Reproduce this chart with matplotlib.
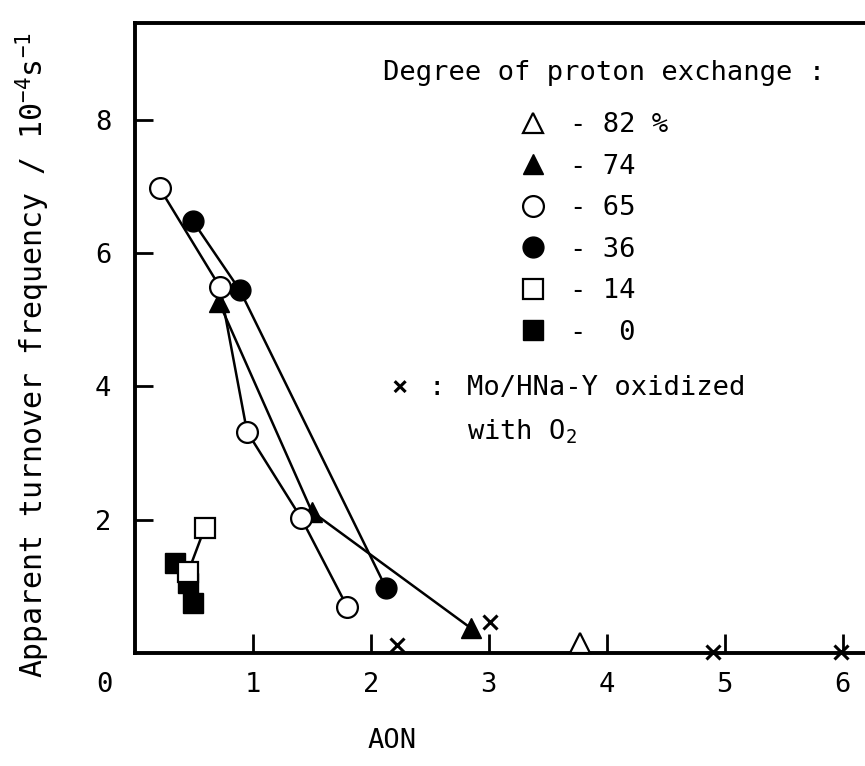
import matplotlib
matplotlib.use('Agg')
import matplotlib.pyplot as plt

plt.rcParams['font.family'] = ['DejaVu Sans Mono', 'DejaVu Sans']
plt.rcParams['mathtext.default'] = 'regular'

# data (AON, turnover frequency / 1e-4 s-1)
x82 = [3.77]
y82 = [0.15]
x74 = [0.71, 1.50, 2.85]
y74 = [5.27, 2.12, 0.37]
x65 = [0.21, 0.72, 0.95, 1.41, 1.80]
y65 = [6.97, 5.49, 3.32, 2.02, 0.69]
x36 = [0.49, 0.89, 2.13]
y36 = [6.48, 5.44, 0.97]
x14 = [0.59, 0.45]
y14 = [1.87, 1.21]
x00 = [0.34, 0.45, 0.49]
y00 = [1.35, 1.05, 0.75]
xO2 = [2.22, 3.01, 4.90, 5.99]
yO2 = [0.12, 0.47, 0.02, 0.02]

xticks = [1, 2, 3, 4, 5, 6]
yticks = [2, 4, 6, 8]

fs = 19.5
lw = 1.8
mew = 1.6

fig = plt.figure(figsize=(8.65, 7.66), dpi=100)
# axes runs off the right edge like the scanned original
ax = fig.add_axes([135 / 865, 113 / 766, 743 / 865, 630 / 766])

h82, = ax.plot(x82, y82, '^', ms=15, mfc='white', mec='black', mew=mew, clip_on=False, zorder=4)
h74, = ax.plot(x74, y74, '-^', color='black', lw=lw, ms=15, mfc='black', mec='black', clip_on=False, zorder=3)
h65, = ax.plot(x65, y65, '-o', color='black', lw=lw, ms=15, mfc='white', mec='black', mew=mew, clip_on=False, zorder=4)
h36, = ax.plot(x36, y36, '-o', color='black', lw=lw, ms=15, mfc='black', mec='black', clip_on=False, zorder=3)
h00, = ax.plot(x00, y00, 's', ms=14, mfc='black', mec='black', clip_on=False, zorder=3)
h14, = ax.plot(x14, y14, '-s', color='black', lw=lw, ms=14, mfc='white', mec='black', mew=mew, clip_on=False, zorder=4)
ax.plot(xO2, yO2, 'x', ms=10, mec='black', mew=2.2, clip_on=False, zorder=4)

ax.set_xlim(0, 6.3)
ax.set_ylim(0, 9.45)

for s in ['left', 'bottom', 'top']:
    ax.spines[s].set_linewidth(2.8)
ax.spines['right'].set_visible(False)

ax.set_xticks(xticks)
ax.set_yticks(yticks)
ax.tick_params(axis='x', direction='in', length=14, width=2, pad=14, labelsize=fs)
ax.tick_params(axis='y', direction='in', length=13, width=2, pad=17, labelsize=fs)

# shared origin label
ax.annotate('0', xy=(0, 0), xytext=(-22, -14), textcoords='offset points',
            ha='center', va='top', fontsize=fs)

ax.set_xlabel('AON', fontsize=fs)
ax.xaxis.set_label_coords(0.346, -0.119)
ax.set_ylabel('Apparent turnover frequency / 10$^{-4}$s$^{-1}$', fontsize=21.5)
ax.yaxis.set_label_coords(-0.112, 0.473)

# legend
ax.text(383 / 865, 1 - 73 / 766, 'Degree of proton exchange :', transform=fig.transFigure,
        fontsize=fs, ha='left', va='center')
leg = ax.legend([h82, h74, h65, h36, h14, h00],
                ['- 82 %', '- 74', '- 65', '- 36', '- 14', '-  0'],
                loc='upper left', bbox_to_anchor=(533 / 865, 1 - 112 / 766),
                bbox_transform=fig.transFigure, frameon=False, fontsize=fs,
                handlelength=0, handletextpad=1.37, labelspacing=0.575,
                borderpad=0, borderaxespad=0, numpoints=1)
for h in leg.legend_handles:
    h.set_linestyle('None')

ax.text(400 / 865, 1 - 388 / 766, '×', transform=fig.transFigure, fontsize=fs,
        ha='center', va='center', fontweight='bold')
ax.text(437 / 865, 1 - 388 / 766, ':', transform=fig.transFigure, fontsize=fs,
        ha='center', va='center')
ax.text(467 / 865, 1 - 388 / 766, 'Mo/HNa-Y oxidized', transform=fig.transFigure,
        fontsize=fs, ha='left', va='center')
ax.text(467 / 865, 1 - 432 / 766, 'with O$_2$', transform=fig.transFigure,
        fontsize=fs, ha='left', va='center')

plt.savefig('out.png', dpi=100)
